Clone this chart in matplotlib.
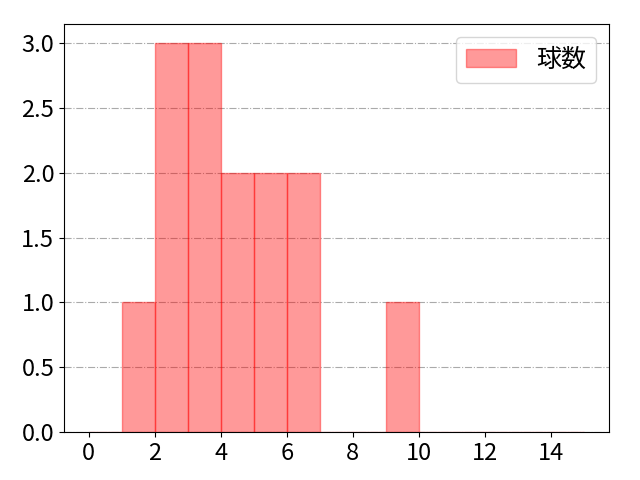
import matplotlib
matplotlib.use("Agg")
import matplotlib.pyplot as plt
import numpy as np

plt.rcParams['font.family'] = ['Noto Sans CJK JP', 'DejaVu Sans']

# pitch counts per bin (bin left edges 0..14, width 1)
bin_edges = list(range(0, 16))
counts = [0, 1, 3, 3, 2, 2, 2, 0, 0, 1, 0, 0, 0, 0, 0]
label = "球数"

fig, ax = plt.subplots(figsize=(6.4, 4.8), dpi=100)
ax.hist(bin_edges[:-1], bins=bin_edges, weights=counts, color="red", alpha=0.4,
        edgecolor="red", label=label)
ax.grid(axis="y", linestyle="-.", color="#aaaaaa")
ax.set_axisbelow(True)
ax.set_xticks(range(0, 16, 2))
ax.tick_params(labelsize=17)
ax.legend(fontsize=18, loc="upper right")
fig.subplots_adjust(left=0.1, right=0.951, top=0.95, bottom=0.1)
plt.savefig("out.png")
